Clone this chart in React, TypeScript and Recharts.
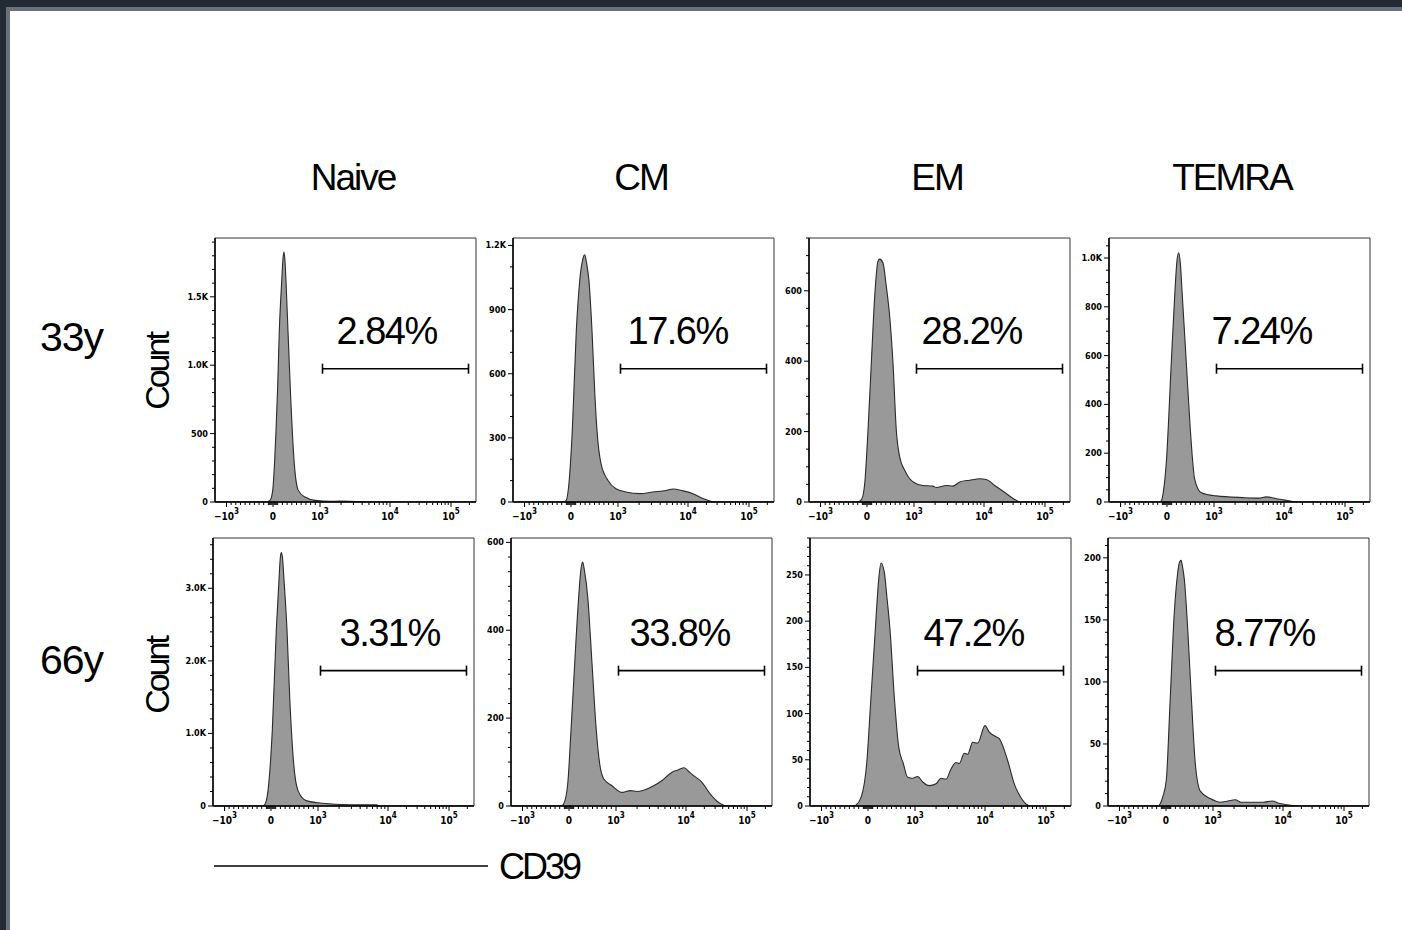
import React from 'react'
import { Area, AreaChart, ReferenceArea, ReferenceLine, XAxis, YAxis } from 'recharts'

// ---- data ----------------------------------------------------------------

const subsets = ['Naive', 'CM', 'EM', 'TEMRA']
const ages = ['33y', '66y']

// histogram outlines as [display channel, count]; channel 0..261 spans the plot width
const naive33 = [[0, 0], [50, 0], [55, 12], [57.7, 85], [59.5, 280], [61, 521], [62.7, 850], [64.3, 1249], [66.7, 1613], [68, 1780], [69, 1827], [70, 1760], [71, 1613], [73, 1249], [75.7, 764], [79.3, 279], [83.3, 85], [90, 36], [100, 12], [115, 5], [125, 7], [135, 6], [145, 3], [150, 0], [261, 0]]
const cm33 = [[0, 0], [50, 0], [53.3, 8], [56, 90], [59.3, 334], [63.3, 801], [66.7, 1034], [69.5, 1130], [71.7, 1156], [73.5, 1120], [76, 1034], [79, 801], [82, 490], [84, 334], [88, 179], [95, 101], [103, 62], [113, 47], [127, 39], [140, 47], [153, 54], [160, 61], [170, 52], [180, 39], [190, 16], [198, 3], [202, 0], [261, 0]]
const em33 = [[0, 0], [48, 0], [52.3, 6], [55.7, 52], [59, 204], [62.3, 394], [65.7, 584], [69, 684], [70.7, 690], [74, 679], [77.3, 613], [80.7, 527], [84, 394], [87.3, 204], [90.7, 128], [95.7, 90], [100.7, 66], [107.3, 52], [114, 47], [124, 45], [127.3, 41], [137.3, 47], [144, 45], [150.7, 57], [160.7, 62], [170.7, 66], [177.3, 64], [185.7, 47], [197.3, 24], [205.7, 7], [211, 0], [261, 0]]
const temra33 = [[0, 0], [50, 0], [52.3, 5], [54.7, 52], [57.3, 162], [62.3, 572], [65.7, 846], [68, 990], [69.7, 1021], [71.3, 980], [73.3, 846], [77.3, 572], [81.3, 298], [85.7, 93], [92.3, 38], [107.3, 25], [134, 18], [150, 16], [157.3, 21], [170.7, 11], [180, 5], [187.3, 0], [261, 0]]

const naive66 = [[0, 0], [49, 0], [51.7, 20], [55, 212], [59.3, 1042], [63.3, 2425], [66, 3116], [67.3, 3420], [68.3, 3494], [69.5, 3420], [71, 3116], [74, 2425], [76.7, 1503], [80.7, 581], [85, 212], [93.3, 74], [110, 37], [136.7, 18], [163.3, 15], [167, 0], [261, 0]]
const cm66 = [[0, 0], [50, 0], [52.7, 5], [56.7, 50], [60, 172], [63.7, 325], [67.7, 477], [70, 540], [71.7, 555], [73.5, 535], [76.7, 477], [81, 325], [85.3, 172], [88.7, 96], [92.7, 62], [101, 46], [111, 31], [119.3, 35], [126, 33], [132.7, 36], [142.7, 46], [151, 58], [161, 77], [167, 82], [173.3, 87], [178, 78], [182.7, 69], [191, 54], [199.3, 27], [207.7, 8], [216, 0], [261, 0]]
const em66 = [[0, 0], [44, 0], [46, 1], [51, 9], [56.7, 46], [61, 118], [65.3, 191], [68.7, 245], [71, 263], [74.3, 253], [77, 225], [80, 191], [84.3, 118], [88.7, 64], [93.3, 46], [97.7, 31], [102.7, 30], [107.7, 32], [112.7, 26], [119.3, 22], [126, 24], [131, 30], [136, 29], [141, 40], [146, 47], [149.3, 46], [154.3, 57], [157.7, 56], [162.7, 69], [167.7, 68], [175, 87], [179.3, 80], [186, 75], [189.3, 73], [197.7, 49], [204.3, 24], [211, 9], [217.7, 1], [220, 0], [261, 0]]
const temra66 = [[0, 0], [50, 0], [52.3, 2], [55, 8], [58.3, 21], [62.3, 88], [66.3, 156], [69, 183], [71, 195], [73, 198], [74.5, 193], [76.3, 183], [79.7, 143], [83.3, 88], [87.3, 34], [92.3, 12], [102.3, 6], [112.3, 3], [120, 4], [127.3, 5], [133, 3], [145, 3], [155, 3], [164, 4], [172, 2], [179, 1], [192, 0], [261, 0]]

const percents33 = ['2.84%', '17.6%', '28.2%', '7.24%']
const percents66 = ['3.31%', '33.8%', '47.2%', '8.77%']

// count axes
const yMax33 = [1930, 1235, 750, 1082]
const yMax66 = [3693, 610, 290, 216]
const yMajor33 = [[0, 500, 1000, 1500], [0, 300, 600, 900, 1200], [0, 200, 400, 600], [0, 200, 400, 600, 800, 1000]]
const yMajor66 = [[0, 1000, 2000, 3000], [0, 200, 400, 600], [0, 50, 100, 150, 200, 250], [0, 50, 100, 150, 200]]
const yMinorStep33 = [100, 100, 50, 50]
const yMinorStep66 = [200, 200 / 6, 10, 10]

// CD39 axis (biexponential display), decade positions in display channels
const decadeValues = [-1000, 0, 1000, 10000, 100000]
const decadeChannels = [11.5, 58, 105, 175, 236]
const decadeLabels = [['−10', '3'], ['0', ''], ['10', '3'], ['10', '4'], ['10', '5']]
const minorValues = [-900, -800, -700, -600, -500, -400, -300, -200, -100, -80, -60, -40, -20, 20, 40, 60, 80, 100, 200, 300, 400, 500, 600, 700, 800, 900, 2000, 3000, 4000, 5000, 6000, 7000, 8000, 9000, 20000, 30000, 40000, 50000, 60000, 70000, 80000, 90000, 200000]

// ---- layout --------------------------------------------------------------

const X_MAX = 261
const GATE = [107.5, 253.5]
const GATE_LEVEL = 0.505
const boxLeft = [[215, 513, 809, 1109], [213, 511, 810, 1108]]
const boxTop = [238, 538]
const boxH = [264, 268]
const labelDx = [[14, 7, 5, -5], [19, 11, 6, -1]]
const titleX = [353, 641, 937, 1232]

const ML = 50
const MT = 4
const MR = 6
const MB = 28

const TEXT_FONT = '"Liberation Sans", Arial, sans-serif'
const TICK_FONT = '"DejaVu Sans Condensed", "DejaVu Sans", sans-serif'

function toChannel(v: number) {
  const c = decadeChannels
  if (v <= 0) return c[1] + (v / 1000) * (c[1] - c[0])
  if (v <= 1000) return c[1] + (v / 1000) * (c[2] - c[1])
  const d = Math.log10(v)
  if (d <= 4) return c[2] + (d - 3) * (c[3] - c[2])
  return c[3] + (d - 4) * (c[4] - c[3])
}

const xMajor = decadeValues.map((v, i) => ({ ch: decadeChannels[i], label: decadeLabels[i] }))
const xTicks = [...decadeChannels, ...minorValues.map(toChannel)].sort((a, b) => a - b)

function fmtCount(v: number) {
  return v >= 1000 ? `${(v / 1000).toFixed(1)}K` : `${v}`
}

function XTick(props: any) {
  const { x, y, payload } = props
  const major = xMajor.find((m) => Math.abs(m.ch - payload.value) < 1e-6)
  return (
    <g>
      <line x1={x} x2={x} y1={y} y2={y + (major ? 5 : 3)} stroke="#000" strokeWidth={1} />
      {major && (
        <text x={x} y={y + 18} textAnchor="middle" fontSize={10} fontWeight={700} fontFamily={TICK_FONT} fill="#000">
          {major.label[0]}
          {major.label[1] && (
            <tspan dy={-6} fontSize={8}>
              {major.label[1]}
            </tspan>
          )}
        </text>
      )}
    </g>
  )
}

function YTick(props: any) {
  const { x, y, payload, majors } = props
  const v = payload.value
  const isMajor = majors.some((m: number) => Math.abs(m - v) < 1e-6)
  return (
    <g>
      <line x1={x} x2={x - (isMajor ? 5 : 3)} y1={y} y2={y} stroke="#000" strokeWidth={1} />
      {isMajor && (
        <text x={x - 7} y={y + 3} textAnchor="end" fontSize={9} fontWeight={700} fontFamily={TICK_FONT} fill="#000">
          {fmtCount(v)}
        </text>
      )}
    </g>
  )
}

function yTicksFor(majors: number[], step: number, max: number) {
  const out = [...majors]
  for (let k = 1; k * step <= max; k++) {
    const v = k * step
    if (!majors.some((m) => Math.abs(m - v) < 1e-6)) out.push(v)
  }
  return out.sort((a, b) => a - b)
}

type PanelProps = {
  data: number[][]
  yMax: number
  majors: number[]
  step: number
  pct: string
  dx: number
  left: number
  top: number
  h: number
}

function Histogram({ data, yMax, majors, step, pct, dx, left, top, h }: PanelProps) {
  const rows = data.map(([ch, n]) => ({ ch, n }))
  const gate = yMax * GATE_LEVEL
  const cap = (yMax * 5) / h
  return (
    <div style={{ position: 'absolute', left: left - ML, top: top - MT }}>
      <AreaChart width={ML + X_MAX + MR} height={MT + h + MB} data={rows} margin={{ top: MT, right: MR, left: 0, bottom: 0 }}>
        <XAxis
          type="number"
          dataKey="ch"
          domain={[0, X_MAX]}
          allowDataOverflow
          ticks={xTicks}
          interval={0}
          height={MB}
          tickSize={0}
          tickMargin={0}
          tickLine={false}
          axisLine={{ stroke: '#000', strokeWidth: 1.5 }}
          tick={(p: any) => <XTick {...p} />}
        />
        <YAxis
          type="number"
          domain={[0, yMax]}
          allowDataOverflow
          ticks={yTicksFor(majors, step, yMax)}
          interval={0}
          width={ML}
          tickSize={0}
          tickMargin={0}
          tickLine={false}
          axisLine={{ stroke: '#000', strokeWidth: 1.5 }}
          tick={(p: any) => <YTick {...p} majors={majors} />}
        />
        <Area
          type="monotone"
          dataKey="n"
          stroke="#2a2a2a"
          strokeWidth={1.1}
          fill="#999999"
          fillOpacity={1}
          dot={false}
          activeDot={false}
          isAnimationActive={false}
        />
        <ReferenceArea x1={0} x2={X_MAX} y1={0} y2={yMax} fill="none" stroke="#333" strokeWidth={1} ifOverflow="visible" />
        <ReferenceLine
          segment={[{ x: GATE[0], y: gate }, { x: GATE[1], y: gate }]}
          stroke="#000"
          strokeWidth={1.6}
          ifOverflow="visible"
          label={(p: any) => (
            <text
              x={p.viewBox.x + dx}
              y={p.viewBox.y - 25}
              fontSize={38}
              letterSpacing={-1.5}
              fontFamily={TEXT_FONT}
              fill="#000"
            >
              {pct}
            </text>
          )}
        />
        <ReferenceLine segment={[{ x: GATE[0], y: gate - cap }, { x: GATE[0], y: gate + cap }]} stroke="#000" strokeWidth={1.6} ifOverflow="visible" />
        <ReferenceLine segment={[{ x: GATE[1], y: gate - cap }, { x: GATE[1], y: gate + cap }]} stroke="#000" strokeWidth={1.6} ifOverflow="visible" />
      </AreaChart>
    </div>
  )
}

const rowData = [
  [naive33, cm33, em33, temra33],
  [naive66, cm66, em66, temra66],
]
const rowPct = [percents33, percents66]
const rowYMax = [yMax33, yMax66]
const rowMajor = [yMajor33, yMajor66]
const rowStep = [yMinorStep33, yMinorStep66]

export default function App() {
  return (
    <div style={{ position: 'absolute', left: 0, top: 0, width: 1402, height: 930, background: '#fff', overflow: 'hidden' }}>
      <div style={{ position: 'absolute', left: 0, top: 0, width: 1402, height: 7, background: '#232a33' }} />
      <div style={{ position: 'absolute', left: 0, top: 0, width: 6, height: 930, background: '#232a33' }} />
      <div style={{ position: 'absolute', left: 6, top: 7, width: 1396, height: 4, background: '#6b717c' }} />
      <div style={{ position: 'absolute', left: 6, top: 7, width: 4, height: 923, background: '#6b717c' }} />

      {rowData.map((row, r) =>
        row.map((data, c) => (
          <Histogram
            key={`${r}-${c}`}
            data={data}
            yMax={rowYMax[r][c]}
            majors={rowMajor[r][c]}
            step={rowStep[r][c]}
            pct={rowPct[r][c]}
            dx={labelDx[r][c]}
            left={boxLeft[r][c]}
            top={boxTop[r]}
            h={boxH[r]}
          />
        ))
      )}

      <svg width={1402} height={930} style={{ position: 'absolute', left: 0, top: 0, pointerEvents: 'none' }}>
        {subsets.map((s, i) => (
          <text key={s} x={titleX[i]} y={190} textAnchor="middle" fontSize={37} letterSpacing={-2} fontFamily={TEXT_FONT} fill="#000">
            {s}
          </text>
        ))}
        {ages.map((a, i) => (
          <text key={a} x={40} y={[351, 674][i]} fontSize={41} letterSpacing={-1} fontFamily={TEXT_FONT} fill="#000">
            {a}
          </text>
        ))}
        {[372, 676].map((cy) => (
          <text key={cy} transform={`translate(169 ${cy}) rotate(-90)`} textAnchor="middle" fontSize={34} letterSpacing={-3} fontFamily={TEXT_FONT} fill="#000">
            Count
          </text>
        ))}
        <line x1={214} x2={488} y1={866} y2={866} stroke="#000" strokeWidth={1.5} />
        <text x={499} y={879} fontSize={36} letterSpacing={-3} fontFamily={TEXT_FONT} fill="#000">
          CD39
        </text>
      </svg>
    </div>
  )
}
